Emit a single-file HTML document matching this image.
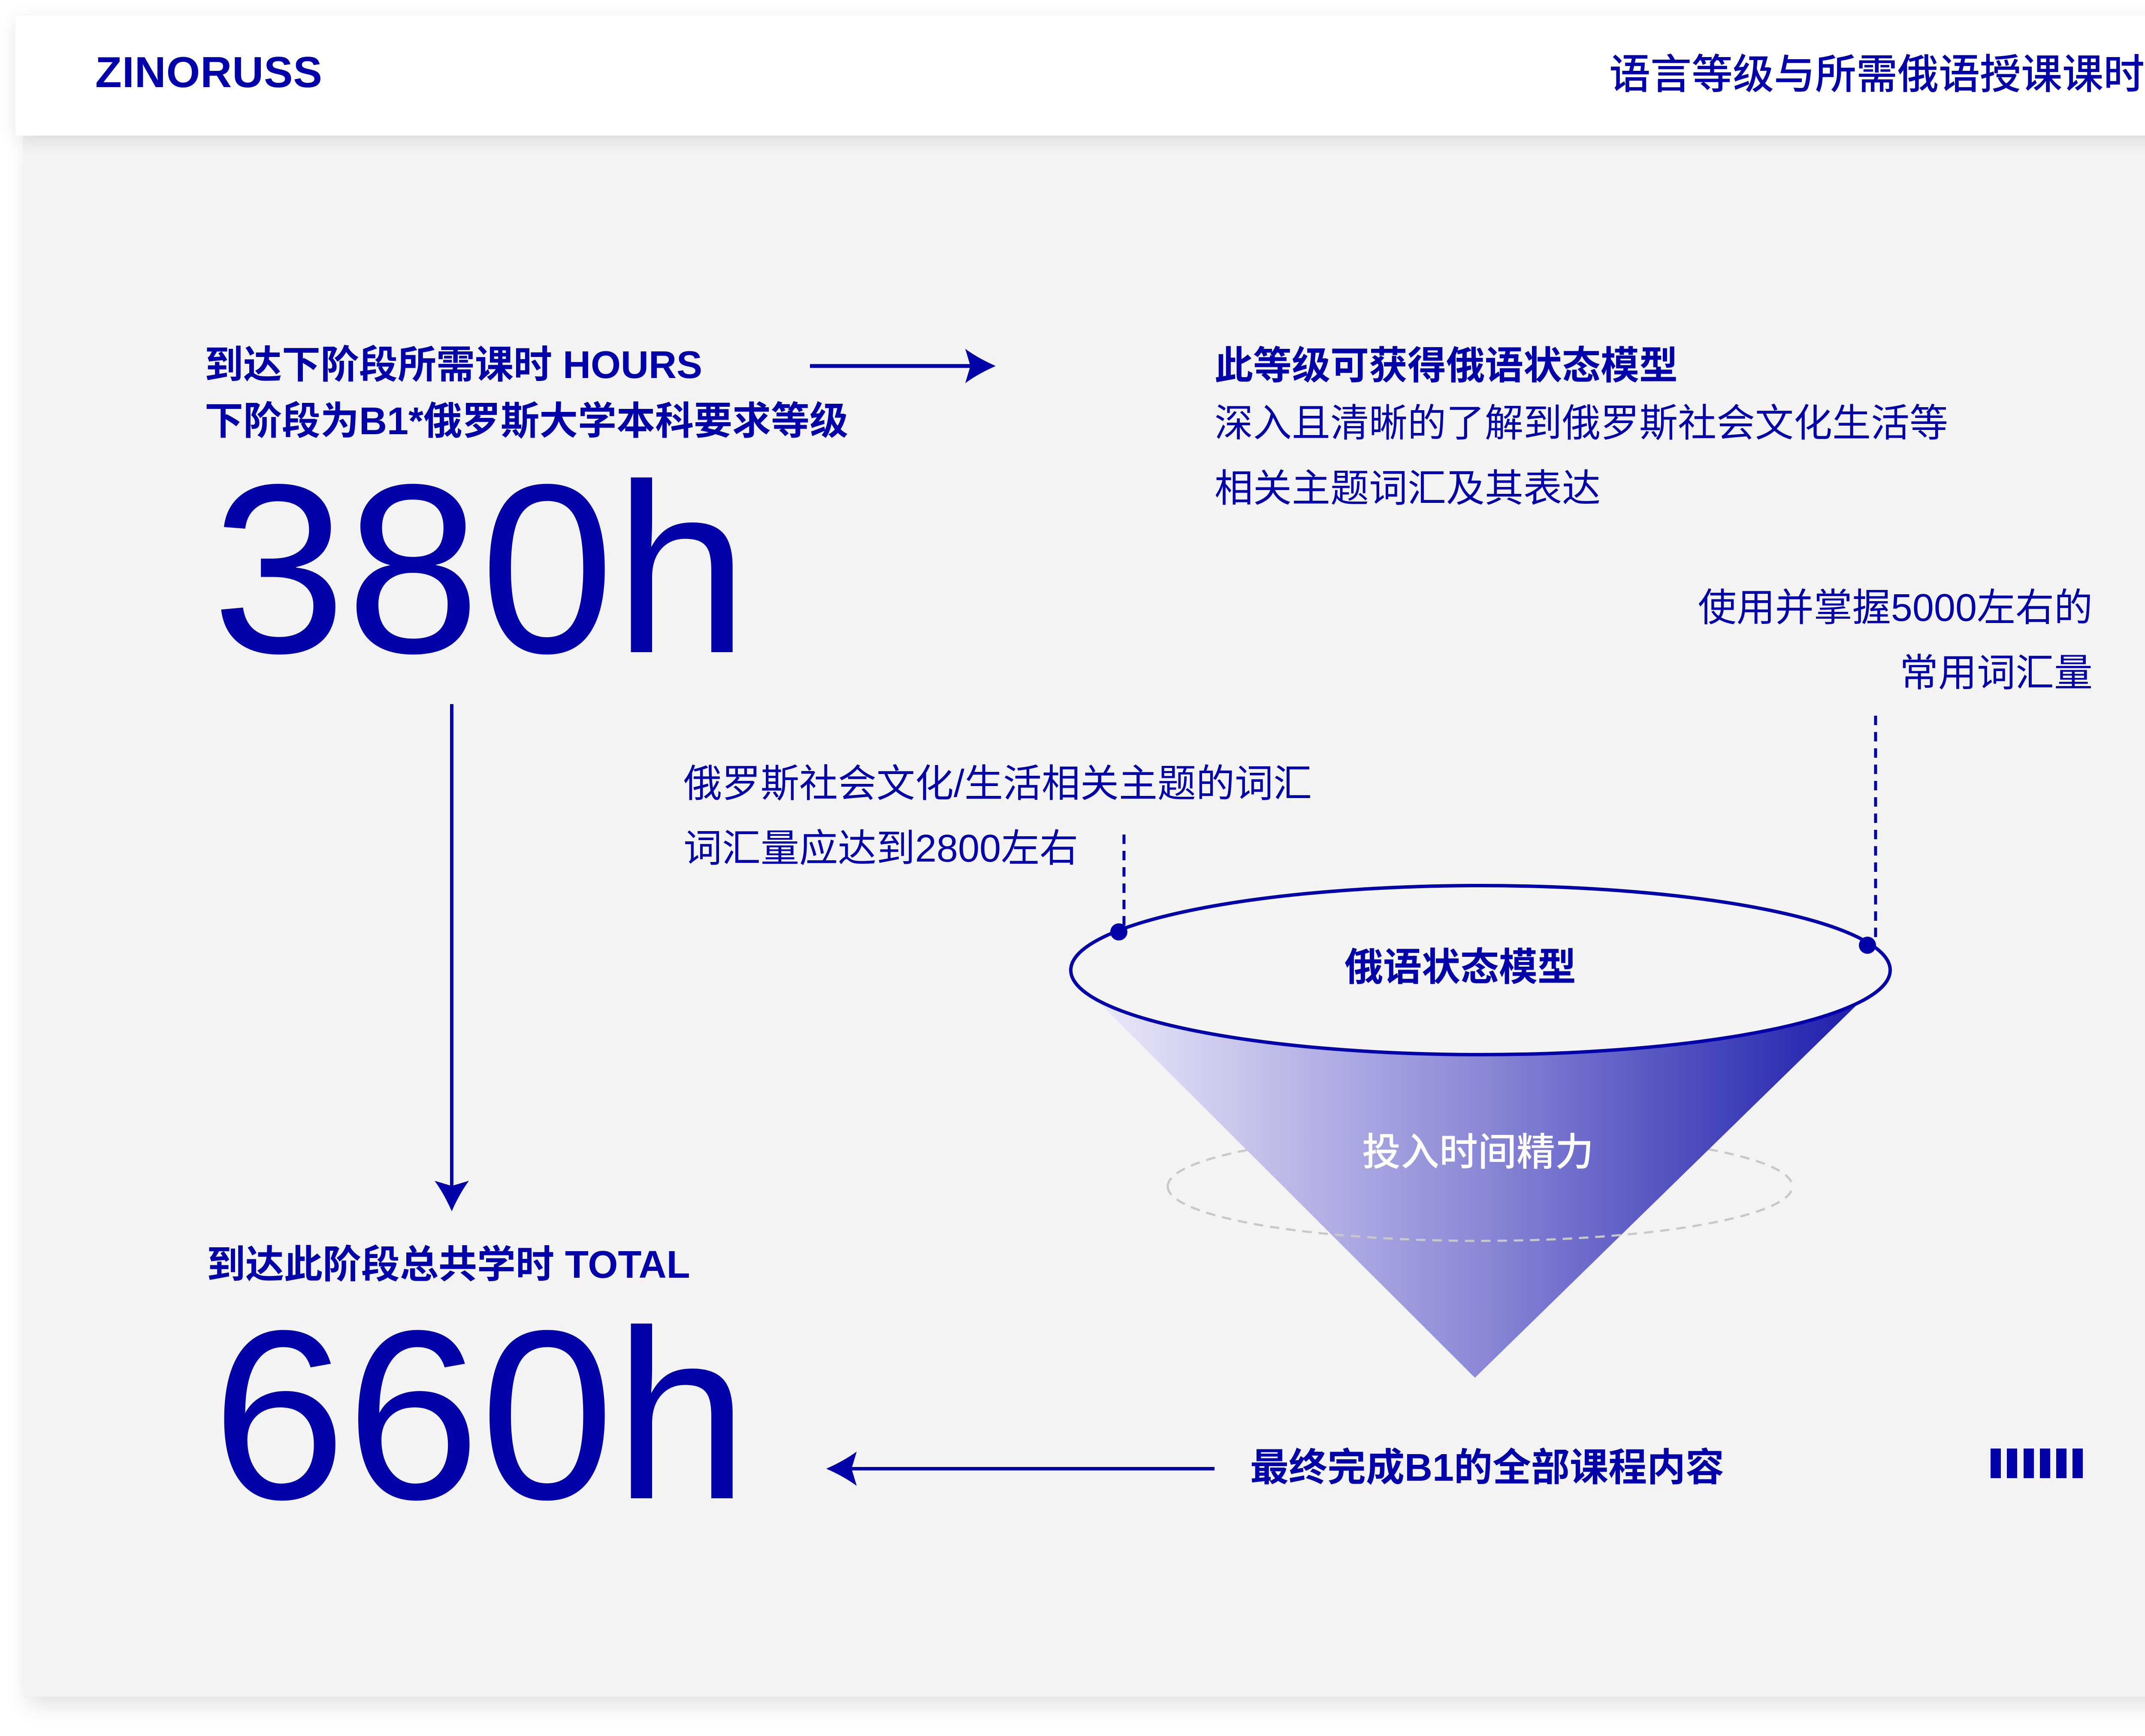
<!DOCTYPE html>
<html><head><meta charset="utf-8"><style>
html,body{margin:0;padding:0;background:#fff;}
body{width:5367px;height:4046px;position:relative;overflow:hidden;}
.hdr{position:absolute;left:36px;top:36px;width:5262px;height:280px;background:#fff;box-shadow:0 10px 40px rgba(0,0,0,0.10);z-index:2;}
.panel{position:absolute;left:53px;top:316px;width:5221px;height:3638px;background:#f3f3f3;box-shadow:12px 20px 50px rgba(0,0,0,0.12);z-index:1;}
svg{position:absolute;left:0;top:0;z-index:3;}
text{font-family:"Liberation Sans","Noto Sans CJK SC",sans-serif;fill:#0202a8;}
</style></head><body>
<div class="panel"></div>
<div class="hdr"></div>
<svg width="5367" height="4046" viewBox="0 0 5367 4046">
<defs>
<linearGradient id="g" x1="2507" y1="0" x2="4402" y2="0" gradientUnits="userSpaceOnUse">
<stop offset="0" stop-color="#f0effb"/>
<stop offset="0.5" stop-color="#8a88d6"/>
<stop offset="1" stop-color="#1515a8"/>
</linearGradient>
</defs>
<text x="222" y="203" font-size="101" font-weight="bold" letter-spacing="1">ZINORUSS</text>
<text x="5095" y="174" font-size="96" font-weight="500" text-anchor="end" dominant-baseline="central">语言等级与所需俄语授课课时表</text>

<text x="477" y="851" font-size="90" font-weight="bold" dominant-baseline="central">到达下阶段所需课时 HOURS</text>
<text x="477" y="982" font-size="90" font-weight="bold" dominant-baseline="central">下阶段为B1*俄罗斯大学本科要求等级</text>
<text x="494" y="1520" font-size="562">380h</text>

<line x1="1888" y1="853" x2="2265" y2="853" stroke="#0202a8" stroke-width="9"/>
<path d="M2321,853 Q2280,835 2250,813 L2262,853 L2250,893 Q2280,871 2321,853 Z" fill="#0202a8"/>

<text x="2831" y="853" font-size="90" font-weight="bold" dominant-baseline="central">此等级可获得俄语状态模型</text>
<text x="2831" y="987" font-size="90" dominant-baseline="central">深入且清晰的了解到俄罗斯社会文化生活等</text>
<text x="2831" y="1139" font-size="90" dominant-baseline="central">相关主题词汇及其表达</text>

<text x="4878" y="1417" font-size="90" text-anchor="end" dominant-baseline="central">使用并掌握5000左右的</text>
<text x="4878" y="1569" font-size="90" text-anchor="end" dominant-baseline="central">常用词汇量</text>
<line x1="4372" y1="1668" x2="4372" y2="2200" stroke="#0202a8" stroke-width="7" stroke-dasharray="22 16"/>

<text x="1593" y="1827" font-size="90" dominant-baseline="central">俄罗斯社会文化/生活相关主题的词汇</text>
<text x="1593" y="1978" font-size="90" dominant-baseline="central">词汇量应达到2800左右</text>
<line x1="2620" y1="1945" x2="2620" y2="2170" stroke="#0202a8" stroke-width="7" stroke-dasharray="22 16"/>

<!-- dashed ellipse back half -->
<path d="M2722,2765 A728,127 0 0 1 4178,2765" fill="none" stroke="#c8c8c8" stroke-width="5" stroke-dasharray="22 16"/>
<!-- cone -->
<polygon points="2507,2282 4402,2270 3438,3211" fill="url(#g)"/>
<!-- dashed ellipse front half -->
<path d="M2722,2765 A728,127 0 0 0 4178,2765" fill="none" stroke="#c8c8c8" stroke-width="5" stroke-dasharray="22 16"/>
<!-- top ellipse -->
<ellipse cx="3451" cy="2261" rx="955" ry="197" fill="#f4f4f4" stroke="#0202a8" stroke-width="8"/>
<circle cx="2608" cy="2172" r="20" fill="#0202a8"/>
<circle cx="4353" cy="2203" r="20" fill="#0202a8"/>
<text x="3404" y="2255" font-size="90" font-weight="bold" text-anchor="middle" dominant-baseline="central">俄语状态模型</text>
<text x="3445" y="2686" font-size="90" font-weight="500" text-anchor="middle" dominant-baseline="central" style="fill:#fff">投入时间精力</text>

<!-- vertical arrow -->
<line x1="1053" y1="1641" x2="1053" y2="2770" stroke="#0202a8" stroke-width="8"/>
<path d="M1053,2823 Q1035,2782 1013,2752 L1053,2764 L1093,2752 Q1071,2782 1053,2823 Z" fill="#0202a8"/>

<text x="482" y="2948" font-size="90" font-weight="bold" dominant-baseline="central">到达此阶段总共学时 TOTAL</text>
<text x="494" y="3492" font-size="562">660h</text>

<!-- left arrow -->
<line x1="1980" y1="3423" x2="2831" y2="3423" stroke="#0202a8" stroke-width="8"/>
<path d="M1926,3423 Q1967,3405 1997,3383 L1985,3423 L1997,3463 Q1967,3441 1926,3423 Z" fill="#0202a8"/>

<text x="2914" y="3421" font-size="90" font-weight="bold" dominant-baseline="central">最终完成B1的全部课程内容</text>

<g fill="#0202a8">
<rect x="4640" y="3376" width="24" height="69"/>
<rect x="4678" y="3376" width="24" height="69"/>
<rect x="4717" y="3376" width="24" height="69"/>
<rect x="4755" y="3376" width="24" height="69"/>
<rect x="4793" y="3376" width="24" height="69"/>
<rect x="4831" y="3376" width="24" height="69"/>
</g>
</svg>
</body></html>
